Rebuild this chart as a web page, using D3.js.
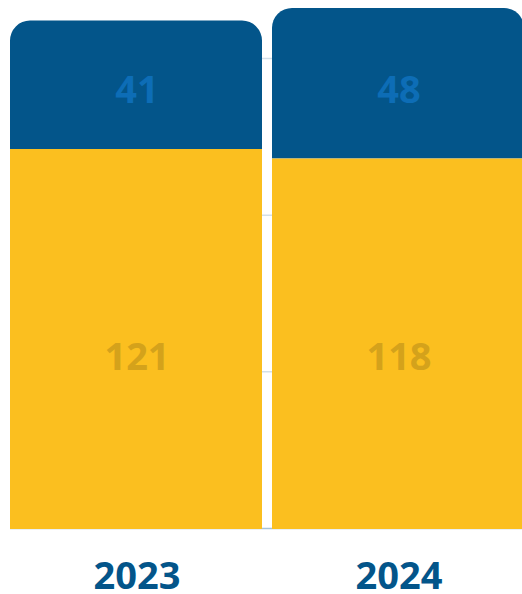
<!DOCTYPE html>
<html>
<head>
<meta charset="utf-8">
<script src="https://cdn.jsdelivr.net/npm/d3@7"></script>
<style>
  html, body { margin: 0; padding: 0; background: #fff; }
  svg { display: block; font-family: "Open Sans", "Noto Sans", sans-serif; }
</style>
</head>
<body>
<div id="chart"></div>
<script>
(function() {
    "use strict";

    // data
    var years = ["2023", "2024"];
    var lowerValues = [121, 118];   // yellow
    var upperValues = [41, 48];     // blue
    var gridTicks = [50, 100, 150];

    var width = 522, height = 594;
    var baseY = 528;

    var svg = d3.select("#chart").append("svg")
        .attr("width", width)
        .attr("height", height);

    var totals = years.map(function(d, i) { return lowerValues[i] + upperValues[i]; });

    var x = d3.scaleBand()
        .domain(years)
        .range([10, 524])
        .paddingInner(10 / 262)
        .paddingOuter(0);

    var y = d3.scaleLinear()
        .domain([0, d3.max(totals)])
        .range([baseY, 8]);

    // grid (only shows in the gap between bars)
    var grid = svg.append("g")
        .attr("class", "grid")
        .attr("transform", "translate(10,0)")
        .call(d3.axisLeft(y).tickValues(gridTicks).tickSize(-(width - 10)).tickFormat(""));
    grid.select(".domain").remove();
    grid.selectAll(".tick line").attr("stroke", "#d3dfe9").attr("stroke-width", 1.5);

    svg.append("line")
        .attr("x1", 10).attr("x2", width)
        .attr("y1", y(0) + 0.5).attr("y2", y(0) + 0.5)
        .attr("stroke", "#a6c2d7")
        .attr("stroke-width", 1.5);

    // rect with rounded top corners only
    function topRounded(x0, y0, w, h, r) {
        var p = d3.path();
        p.moveTo(x0, y0 + h);
        p.lineTo(x0, y0 + r);
        p.arcTo(x0, y0, x0 + r, y0, r);
        p.lineTo(x0 + w - r, y0);
        p.arcTo(x0 + w, y0, x0 + w, y0 + r, r);
        p.lineTo(x0 + w, y0 + h);
        p.closePath();
        return p.toString();
    }

    var bars = svg.append("g").attr("class", "bars");

    // labels sit on a common line per series
    var lowerLabelY = d3.mean(lowerValues, function(v) { return (y(v) + y(0)) / 2; }) + 14;
    var upperLabelY = d3.mean(years, function(d, i) {
        return (y(lowerValues[i]) + y(lowerValues[i] + upperValues[i])) / 2;
    }) + 4.5;

    years.forEach(function(yr, i) {
        var bx = x(yr), bw = x.bandwidth();
        var low = lowerValues[i], up = upperValues[i];

        bars.append("rect")
            .attr("x", bx)
            .attr("y", y(low))
            .attr("width", bw)
            .attr("height", y(0) - y(low) + 1)
            .attr("fill", "#fbbf1f");

        bars.append("path")
            .attr("d", topRounded(bx, y(low + up), bw, y(low) - y(low + up), 20))
            .attr("fill", "#03558a");

        bars.append("text")
            .attr("x", bx + bw / 2 + 1)
            .attr("y", lowerLabelY)
            .attr("text-anchor", "middle")
            .attr("dominant-baseline", "central")
            .attr("font-size", 38)
            .attr("font-weight", 700)
            .attr("fill", "#d4a21b")
            .text(low);

        bars.append("text")
            .attr("x", bx + bw / 2 + 1)
            .attr("y", upperLabelY)
            .attr("text-anchor", "middle")
            .attr("dominant-baseline", "central")
            .attr("font-size", 38)
            .attr("font-weight", 700)
            .attr("fill", "#0d6db6")
            .text(up);
    });

    // year labels
    svg.append("g")
        .selectAll("text")
        .data(years)
        .join("text")
        .attr("x", function(d) { return x(d) + x.bandwidth() / 2 + 1; })
        .attr("y", 589)
        .attr("text-anchor", "middle")
        .attr("font-size", 38)
        .attr("font-weight", 700)
        .attr("fill", "#03558a")
        .text(function(d) { return d; });
})();
</script>
</body>
</html>
